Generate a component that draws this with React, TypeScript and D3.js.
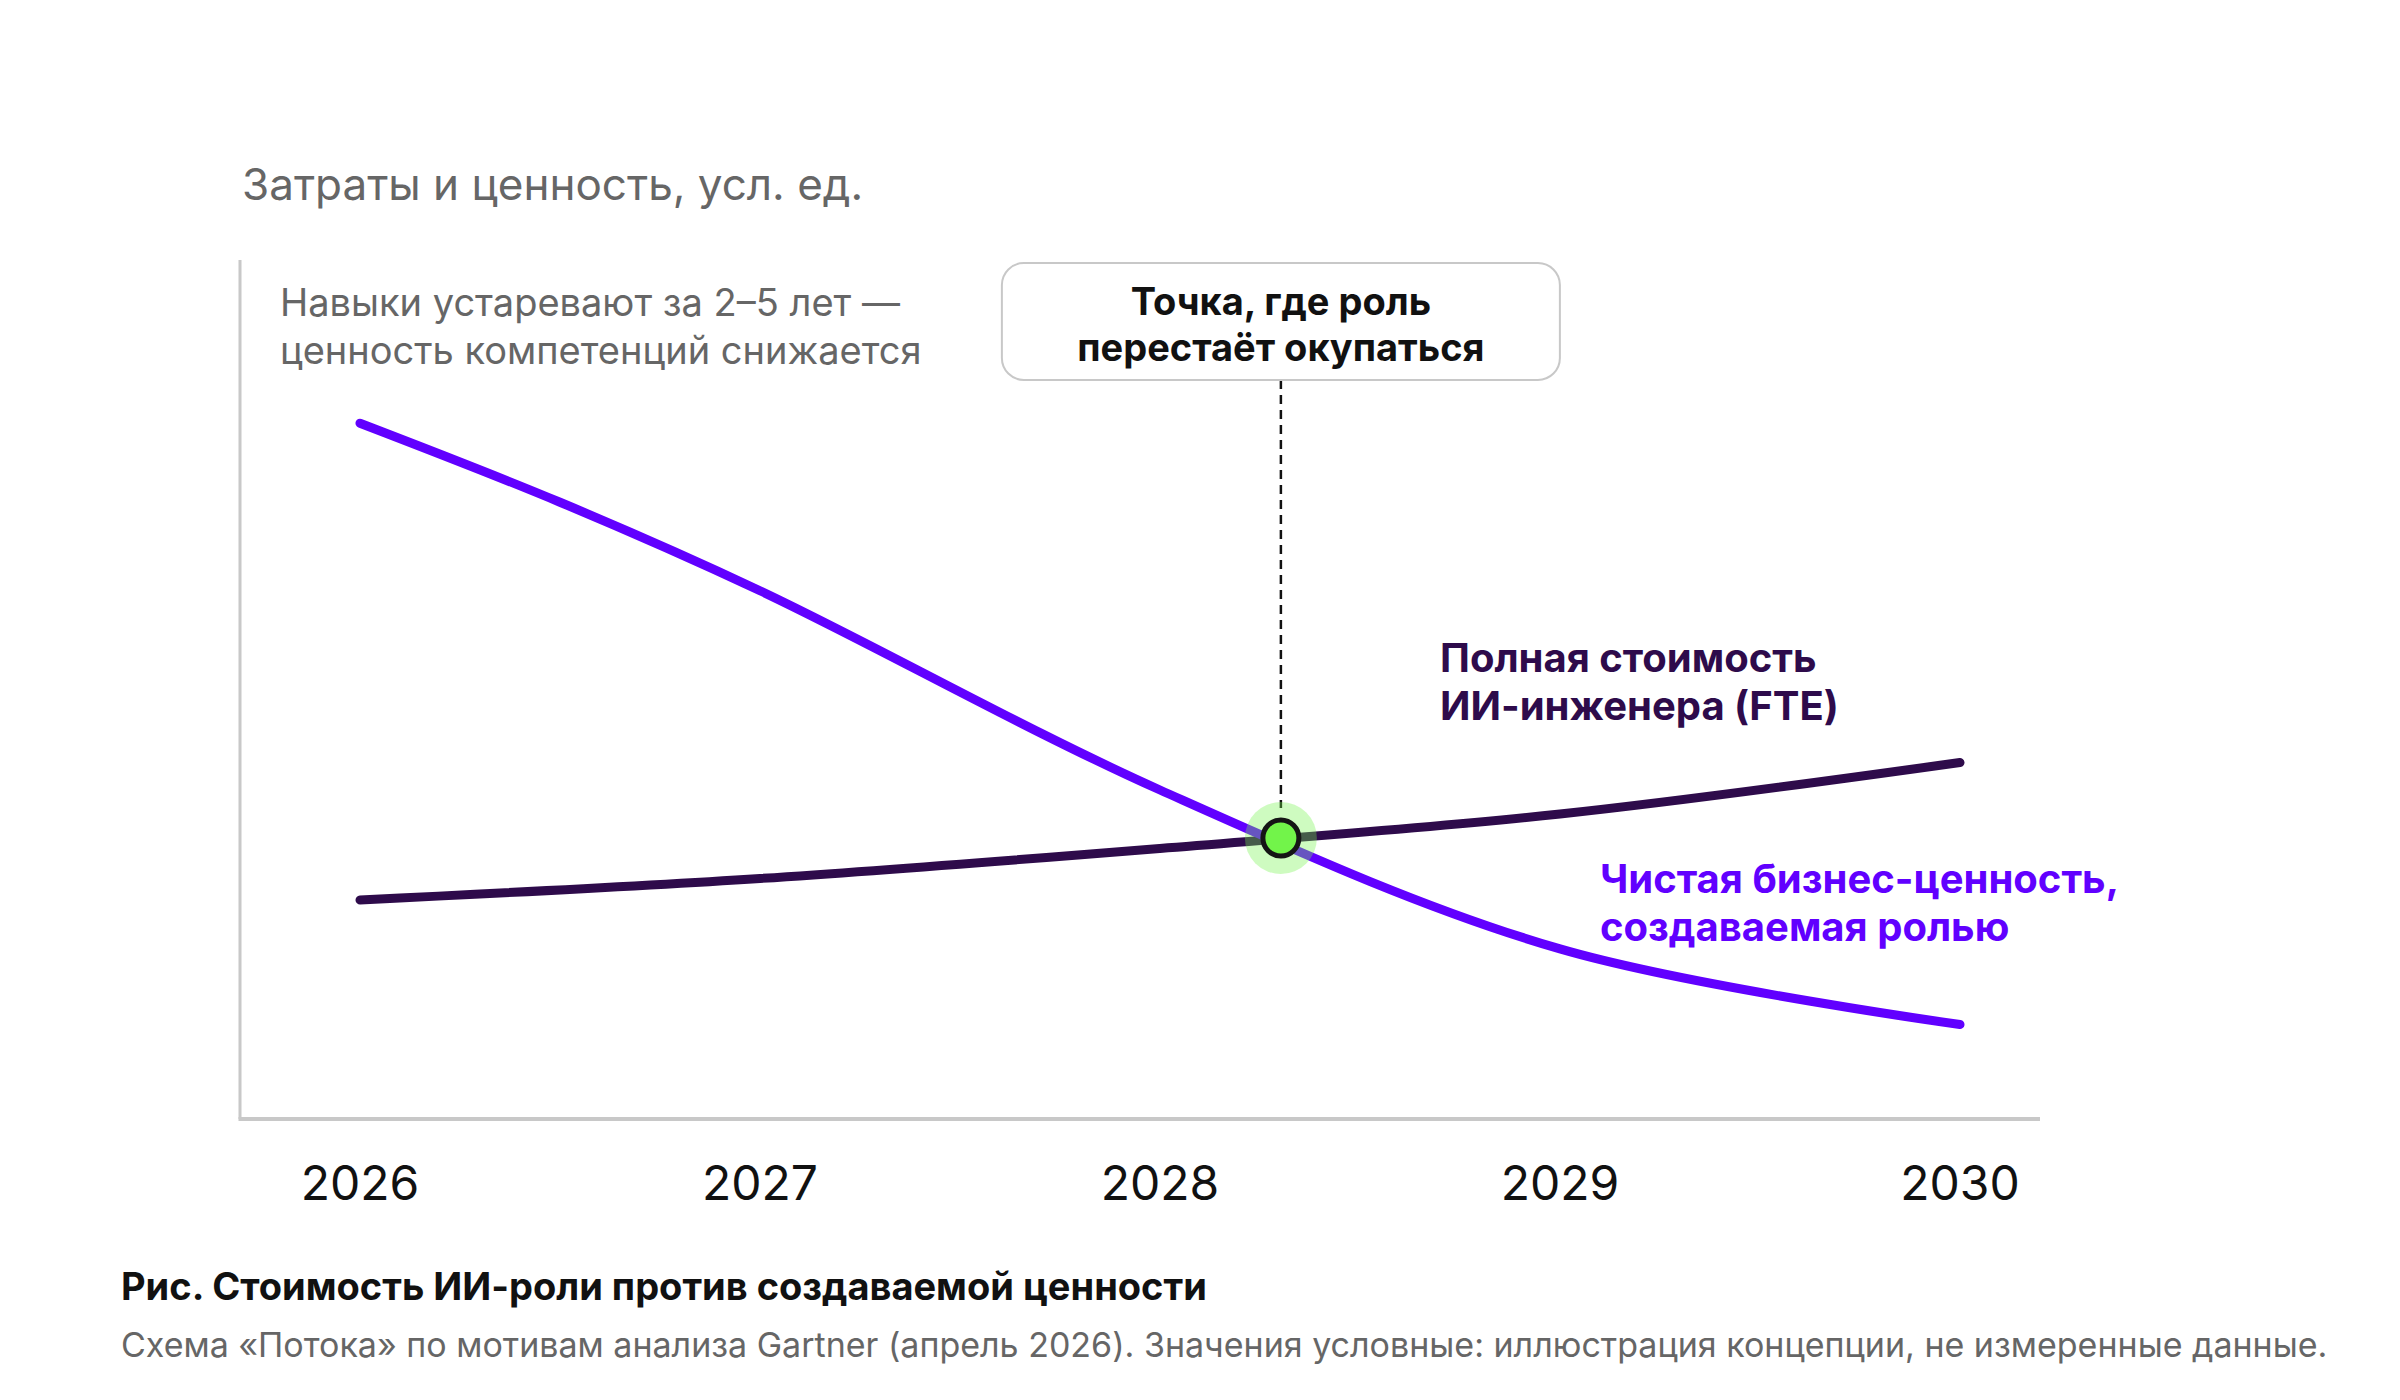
import React from "react";
import * as d3 from "d3";

// tick years on the x axis
const years = [2026, 2027, 2028, 2029, 2030];
const yearLabels = ["2026", "2027", "2028", "2029", "2030"];

// net business value created by the role (arbitrary units)
const valueYears = [2026, 2026.5, 2027, 2028, 2029, 2030];
const valueSeries = [81, 71.8, 61.5, 38.3, 19.8, 11];
// full cost of an AI engineer FTE (arbitrary units)
const costYears = [2026, 2027, 2028, 2029, 2030];
const costSeries = [25.5, 28, 31.5, 35.5, 41.5];

const titleText = "Затраты и ценность, усл. ед.";
const noteLines = ["Навыки устаревают за 2–5 лет —", "ценность компетенций снижается"];
const boxLines = ["Точка, где роль", "перестаёт окупаться"];
const costLines = ["Полная стоимость", "ИИ-инженера (FTE)"];
const valueLines = ["Чистая бизнес-ценность,", "создаваемая ролью"];
const captionTitle = "Рис. Стоимость ИИ-роли против создаваемой ценности";
const captionText =
  "Схема «Потока» по мотивам анализа Gartner (апрель 2026). Значения условные: иллюстрация концепции, не измеренные данные.";

// value of a series at a given year, linear between its points
function at(xs: number[], ys: number[], x: number) {
  const i = Math.max(0, Math.min(xs.length - 2, d3.bisectRight(xs, x) - 1));
  const t = (x - xs[i]) / (xs[i + 1] - xs[i]);
  return ys[i] + t * (ys[i + 1] - ys[i]);
}

// first year where value drops below cost (bisection on the difference)
function findCrossing() {
  let lo = years[0];
  let hi = years[years.length - 1];
  const diff = (x: number) => at(valueYears, valueSeries, x) - at(costYears, costSeries, x);
  for (let k = 0; k < 40; k++) {
    const mid = (lo + hi) / 2;
    if (diff(mid) > 0) lo = mid;
    else hi = mid;
  }
  return { year: lo, v: at(costYears, costSeries, lo) };
}

export default function App() {
  const width = 2400;
  const height = 1400;
  const font = "Inter, 'Noto Sans', sans-serif";

  const colors = {
    value: "#6100ff",
    cost: "#2e0b4b",
    axis: "#c8c8c8",
    grey: "#666666",
    ink: "#111111",
    dot: "#72f44a",
  };

  //scales
  const xScale = d3.scaleLinear().domain([2026, 2030]).range([360, 1960]);
  const yScale = d3.scaleLinear().domain([0, 100]).range([1119, 260]);

  const lineFor = (xs: number[]) =>
    d3
      .line<number>()
      .x((_, i) => xScale(xs[i]))
      .y((d) => yScale(d))
      .curve(d3.curveCatmullRom.alpha(0.5));

  const cross = findCrossing();
  const cx = xScale(cross.year);
  const cy = yScale(cross.v);

  const axisLeft = 240;
  const axisRight = 2040;
  const axisBottom = yScale(0);
  const axisTop = yScale(100);

  const boxW = 558;
  const boxTop = 263;
  const boxH = 117;

  return (
    <div>
      <style>{`body{margin:0}`}</style>
      <svg width={width} height={height} style={{ display: "block", background: "#fff" }} fontFamily={font}>
        {/* axis title */}
        <text x={242} y={200} fontSize={44} fill={colors.grey}>
          {titleText}
        </text>

        {/* axes */}
        <line x1={axisLeft} x2={axisLeft} y1={axisTop} y2={axisBottom} stroke={colors.axis} strokeWidth={3} />
        <line x1={axisLeft - 1.5} x2={axisRight} y1={axisBottom} y2={axisBottom} stroke={colors.axis} strokeWidth={4} />

        {years.map((t, i) => (
          <text key={t} x={xScale(t)} y={1200} fontSize={48} textAnchor="middle" fill={colors.ink}>
            {yearLabels[i]}
          </text>
        ))}

        {/* note in the upper left */}
        {noteLines.map((l, i) => (
          <text key={l} x={280} y={316 + i * 48} fontSize={38} fill={colors.grey}>
            {l}
          </text>
        ))}

        {/* series */}
        <path
          d={lineFor(costYears)(costSeries) ?? ""}
          fill="none"
          stroke={colors.cost}
          strokeWidth={9}
          strokeLinecap="round"
        />
        <path
          d={lineFor(valueYears)(valueSeries) ?? ""}
          fill="none"
          stroke={colors.value}
          strokeWidth={9}
          strokeLinecap="round"
        />

        {/* break-even marker */}
        <line
          x1={cx}
          x2={cx}
          y1={boxTop + boxH}
          y2={cy - 30}
          stroke="#111"
          strokeWidth={2.5}
          strokeDasharray="9 6"
        />
        <circle cx={cx} cy={cy} r={36} fill={colors.dot} fillOpacity={0.35} />
        <circle cx={cx} cy={cy} r={18} fill={colors.dot} stroke="#151515" strokeWidth={5} />

        <rect
          x={cx - boxW / 2}
          y={boxTop}
          width={boxW}
          height={boxH}
          rx={22}
          fill="#fff"
          stroke={colors.axis}
          strokeWidth={2}
        />
        {boxLines.map((l, i) => (
          <text
            key={l}
            x={cx}
            y={315 + i * 46}
            fontSize={38}
            fontWeight={700}
            textAnchor="middle"
            fill={colors.ink}
          >
            {l}
          </text>
        ))}

        {/* series labels */}
        {costLines.map((l, i) => (
          <text key={l} x={1440} y={672 + i * 48} fontSize={40} fontWeight={700} fill={colors.cost}>
            {l}
          </text>
        ))}
        {valueLines.map((l, i) => (
          <text key={l} x={1600} y={893 + i * 48} fontSize={40} fontWeight={700} fill={colors.value}>
            {l}
          </text>
        ))}

        {/* caption */}
        <text x={121} y={1300} fontSize={38} fontWeight={700} fill={colors.ink}>
          {captionTitle}
        </text>
        <text x={121} y={1357} fontSize={34} fill={colors.grey}>
          {captionText}
        </text>
      </svg>
    </div>
  );
}
